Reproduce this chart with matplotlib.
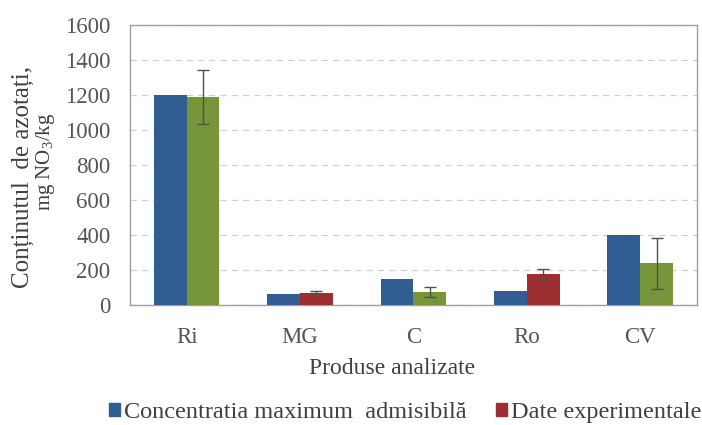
import numpy as np
import matplotlib.pyplot as plt
from matplotlib.patches import Patch

plt.rcParams['font.family'] = ['Liberation Serif', 'DejaVu Serif']
plt.rcParams['mathtext.fontset'] = 'custom'
plt.rcParams['mathtext.rm'] = 'Liberation Serif'
plt.rcParams['mathtext.default'] = 'regular'

categories = ['Ri', 'MG', 'C', 'Ro', 'CV']
cma = [1200, 60, 150, 80, 400]            # Concentratia maximum admisibila
experimental = [1190, 67, 74, 173, 236]   # Date experimentale
exp_err = [155, 13, 27, 33, 146]

blue = '#315e92'
green = '#77963a'
red = '#9e2f30'
exp_colors = [green, red, green, red, green]
txt = '#404040'

fig = plt.figure(figsize=(7.02, 4.25), dpi=100)
ax = fig.add_axes([0.185, 0.283, 0.808, 0.658])

x = np.arange(len(categories))
w = 0.29
ax.bar(x - w / 2, cma, w, color=blue, zorder=3)
ax.bar(x + w / 2, experimental, w, color=exp_colors, zorder=3)
ax.errorbar(x + w / 2, experimental, yerr=exp_err, fmt='none',
            ecolor='#505050', elinewidth=1, capsize=4, capthick=1, zorder=4)

ax.set_ylim(0, 1600)
ax.set_xlim(-0.5, len(categories) - 0.5)
ax.set_yticks(np.arange(0, 1601, 200))
ax.set_xticks(x)
ax.set_xticklabels(categories)
ax.tick_params(axis='both', length=0, labelsize=16.5, colors='#555555')
ax.tick_params(axis='y', pad=14)
ax.tick_params(axis='x', pad=16)
ax.yaxis.grid(True, linestyle=(0, (5, 4)), color='#d0d0d0', linewidth=0.9, zorder=0)
for s in ax.spines.values():
    s.set_color('#a0a0a0')
    s.set_linewidth(1)

# axis titles
fig.text(0.558, 0.134, 'Produse analizate', fontsize=17, color=txt,
         ha='center', va='center')
fig.text(0.033, 0.584, 'Conținutul  de azotați,', rotation=90, fontsize=18,
         color=txt, ha='center', va='center')
fig.text(0.065, 0.619, 'mg NO$_3$/kg', rotation=90, fontsize=15,
         color=txt, ha='center', va='center')

handles = [Patch(color=blue), Patch(color=red)]
fig.legend(handles, ['Concentratia maximum  admisibilă', 'Date experimentale'],
           loc='center', bbox_to_anchor=(0.577, 0.03), ncol=2, frameon=False,
           fontsize=17.5, handlelength=0.45, handleheight=0.45, handletextpad=0.17,
           columnspacing=1.2, labelcolor=txt, borderpad=0)

fig.savefig('out.png', dpi=100)
